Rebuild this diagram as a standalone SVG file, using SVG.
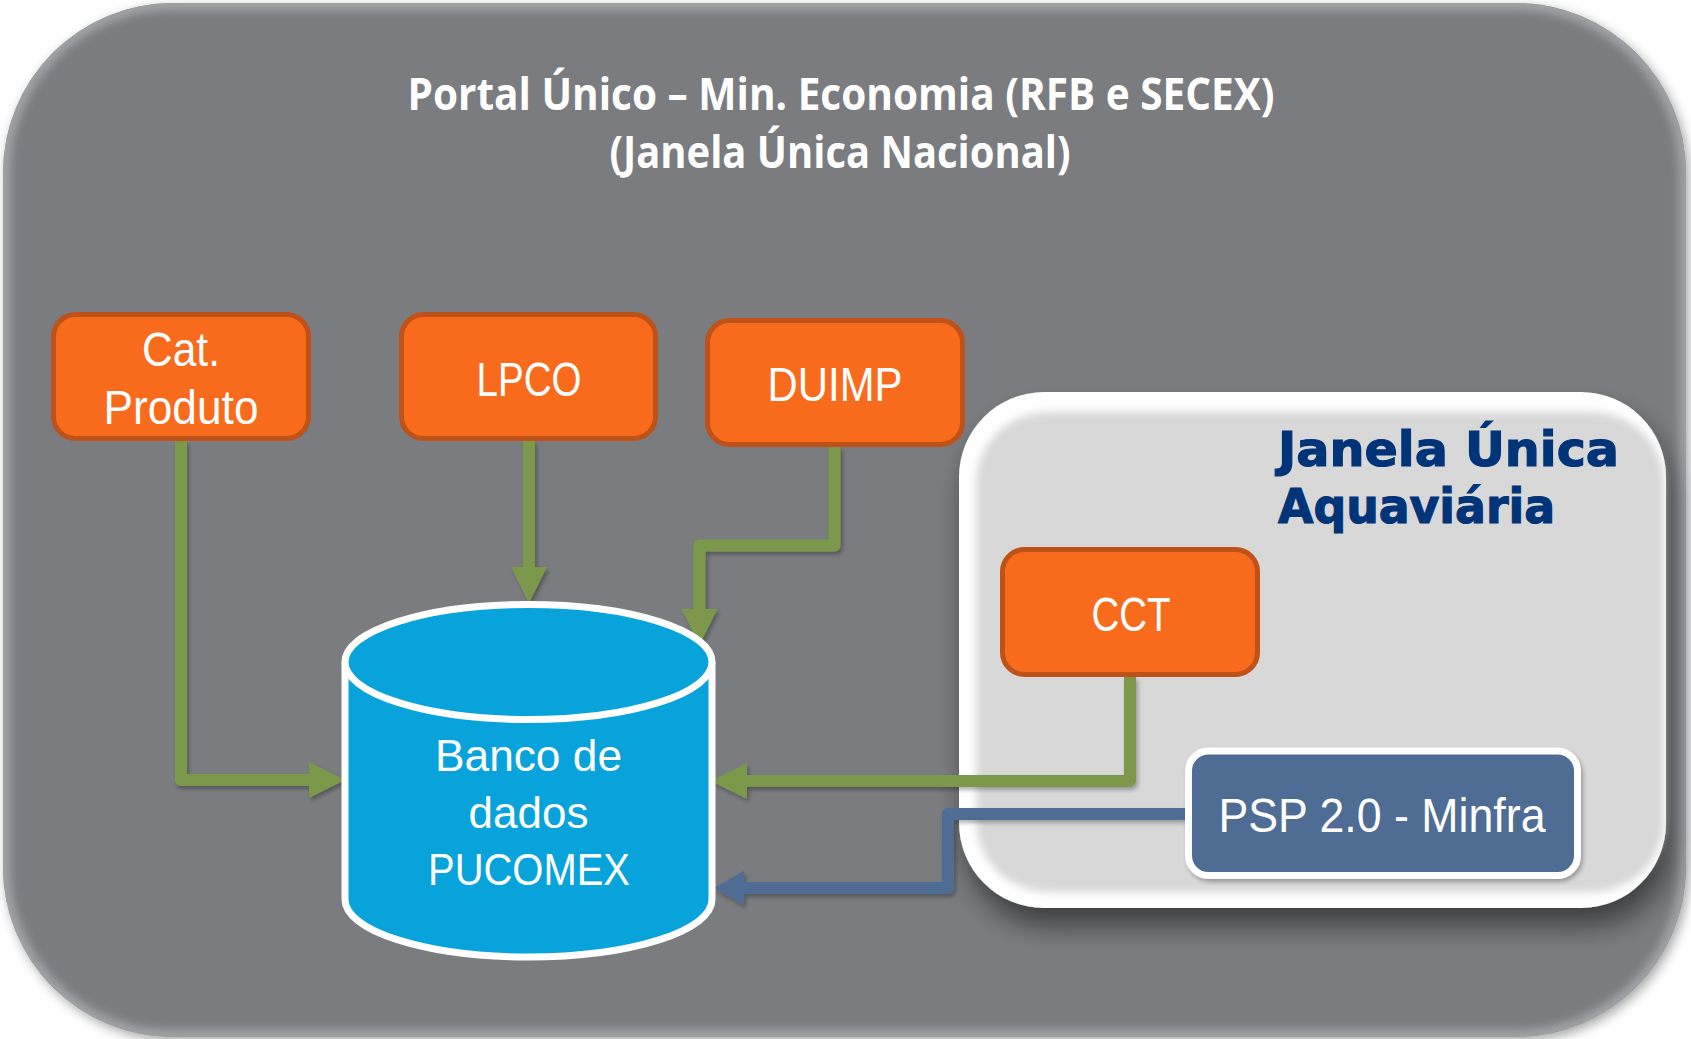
<svg xmlns="http://www.w3.org/2000/svg" width="1691" height="1039" viewBox="0 0 1691 1039">
<defs>
<style>
.box{fill:#f96b1c;stroke:#bf5218;stroke-width:5}
.boxtxt{font-family:"Liberation Sans",Arial,sans-serif;font-size:48px;fill:#ffffff;text-anchor:middle}
.dbtxt{font-family:"Liberation Sans",Arial,sans-serif;font-size:44px;fill:#ffffff;text-anchor:middle}
.title{font-family:"Open Sans","Liberation Sans",sans-serif;font-weight:700;font-size:44px;fill:#ffffff}
.jua{font-family:"DejaVu Sans","Liberation Sans",sans-serif;font-weight:700;font-size:48px;fill:#003479;stroke:#003479;stroke-width:1.2}
.g{fill:none;stroke:#7b994b;stroke-width:12;stroke-linejoin:round}
.b{fill:none;stroke:#4f6d94;stroke-width:12;stroke-linejoin:round}
</style>
<marker id="ag" markerUnits="userSpaceOnUse" viewBox="0 0 36 36" markerWidth="36" markerHeight="36" refX="0" refY="18" orient="auto">
<path d="M0,0 L36,18 L0,36 Z" fill="#7b994b"/>
</marker>
<marker id="ab" markerUnits="userSpaceOnUse" viewBox="0 0 30 34" markerWidth="30" markerHeight="34" refX="0" refY="17" orient="auto">
<path d="M0,0 L30,17 L0,34 Z" fill="#4f6d94"/>
</marker>
<filter id="outerSh" x="-5%" y="-5%" width="110%" height="110%">
<feGaussianBlur in="SourceAlpha" stdDeviation="6"/>
<feOffset dx="3" dy="4"/>
<feComponentTransfer><feFuncA type="linear" slope="0.35"/></feComponentTransfer>
<feMerge><feMergeNode/><feMergeNode in="SourceGraphic"/></feMerge>
</filter>
<filter id="rimBlur" x="-5%" y="-5%" width="110%" height="110%">
<feGaussianBlur stdDeviation="5"/>
</filter>
<filter id="contSh" x="-10%" y="-10%" width="125%" height="130%">
<feGaussianBlur in="SourceAlpha" stdDeviation="14"/>
<feOffset dx="6" dy="18"/>
<feComponentTransfer><feFuncA type="linear" slope="0.5"/></feComponentTransfer>
<feMerge><feMergeNode/><feMergeNode in="SourceGraphic"/></feMerge>
</filter>
<filter id="innerBlur" x="-5%" y="-5%" width="110%" height="110%">
<feGaussianBlur stdDeviation="4"/>
</filter>
<filter id="lineSh" x="-10%" y="-10%" width="120%" height="120%">
<feGaussianBlur in="SourceAlpha" stdDeviation="2"/>
<feOffset dx="2" dy="3"/>
<feComponentTransfer><feFuncA type="linear" slope="0.3"/></feComponentTransfer>
<feMerge><feMergeNode/><feMergeNode in="SourceGraphic"/></feMerge>
</filter>
<clipPath id="outerClip"><rect x="3" y="3" width="1683" height="1034" rx="170"/></clipPath>
</defs>

<rect width="1691" height="1039" fill="#ffffff"/>

<g id="portal">
<rect x="3" y="3" width="1683" height="1034" rx="170" fill="#7a7b7f" filter="url(#outerSh)"/>
<g clip-path="url(#outerClip)">
<rect x="3" y="3" width="1683" height="1034" rx="170" fill="none" stroke="#a3a4a8" stroke-width="14" filter="url(#rimBlur)"/>
</g>
<text class="title" x="841" y="110" text-anchor="middle" textLength="867" lengthAdjust="spacingAndGlyphs">Portal Único – Min. Economia (RFB e SECEX)</text>
<text class="title" x="840" y="168" text-anchor="middle" textLength="461" lengthAdjust="spacingAndGlyphs">(Janela Única Nacional)</text>
</g>

<g id="janela-aquaviaria">
<rect x="959" y="392" width="707" height="516" rx="85" fill="#ffffff" filter="url(#contSh)"/>
<rect x="976" y="412" width="688" height="480" rx="72" fill="#d8d8d8" filter="url(#innerBlur)"/>
<text class="jua" x="1278" y="466" textLength="341" lengthAdjust="spacingAndGlyphs">Janela Única</text>
<text class="jua" x="1278" y="523" textLength="277" lengthAdjust="spacingAndGlyphs">Aquaviária</text>
</g>

<g id="connectors" filter="url(#lineSh)">
<path class="g" d="M181,441 V780 H309" marker-end="url(#ag)"/>
<path class="g" d="M529,441 V567" marker-end="url(#ag)"/>
<path class="g" d="M834.5,447 V545.5 H699.5 V609" marker-end="url(#ag)"/>
<path class="g" d="M1130,677 V781 H747" marker-end="url(#ag)"/>
<path class="b" d="M1185,814 H948 V888 H744" marker-end="url(#ab)"/>
</g>

<g id="cat-produto">
<rect class="box" x="53.5" y="314.5" width="255" height="124" rx="22"/>
<text class="boxtxt" x="181" y="366" textLength="78" lengthAdjust="spacingAndGlyphs">Cat.</text>
<text class="boxtxt" x="181" y="424" textLength="155" lengthAdjust="spacingAndGlyphs">Produto</text>
</g>

<g id="lpco">
<rect class="box" x="401.5" y="314.5" width="254" height="124" rx="22"/>
<text class="boxtxt" x="529" y="396" textLength="105" lengthAdjust="spacingAndGlyphs">LPCO</text>
</g>

<g id="duimp">
<rect class="box" x="707.5" y="320.5" width="255" height="124" rx="22"/>
<text class="boxtxt" x="835" y="401" textLength="135" lengthAdjust="spacingAndGlyphs">DUIMP</text>
</g>

<g id="cct">
<rect class="box" x="1002.5" y="549.5" width="255" height="125" rx="22"/>
<text class="boxtxt" x="1131" y="631" textLength="79" lengthAdjust="spacingAndGlyphs">CCT</text>
</g>

<g id="psp">
<rect x="1188.5" y="751" width="389" height="124.5" rx="20" fill="#4f6d94" stroke="#ffffff" stroke-width="7" filter="url(#lineSh)"/>
<text class="boxtxt" x="1382" y="832" textLength="327" lengthAdjust="spacingAndGlyphs">PSP 2.0 - Minfra</text>
</g>

<g id="banco-pucomex">
<path d="M345,662 V899.5 A183.5,57.5 0 0 0 712,899.5 V662" fill="#08a3db" stroke="#ffffff" stroke-width="7"/>
<ellipse cx="528.5" cy="662" rx="183.5" ry="57.5" fill="#08a3db" stroke="#ffffff" stroke-width="7"/>
<text class="dbtxt" x="528.5" y="771" textLength="187" lengthAdjust="spacingAndGlyphs">Banco de</text>
<text class="dbtxt" x="528.5" y="828">dados</text>
<text class="dbtxt" x="529" y="885" textLength="202" lengthAdjust="spacingAndGlyphs">PUCOMEX</text>
</g>
</svg>
